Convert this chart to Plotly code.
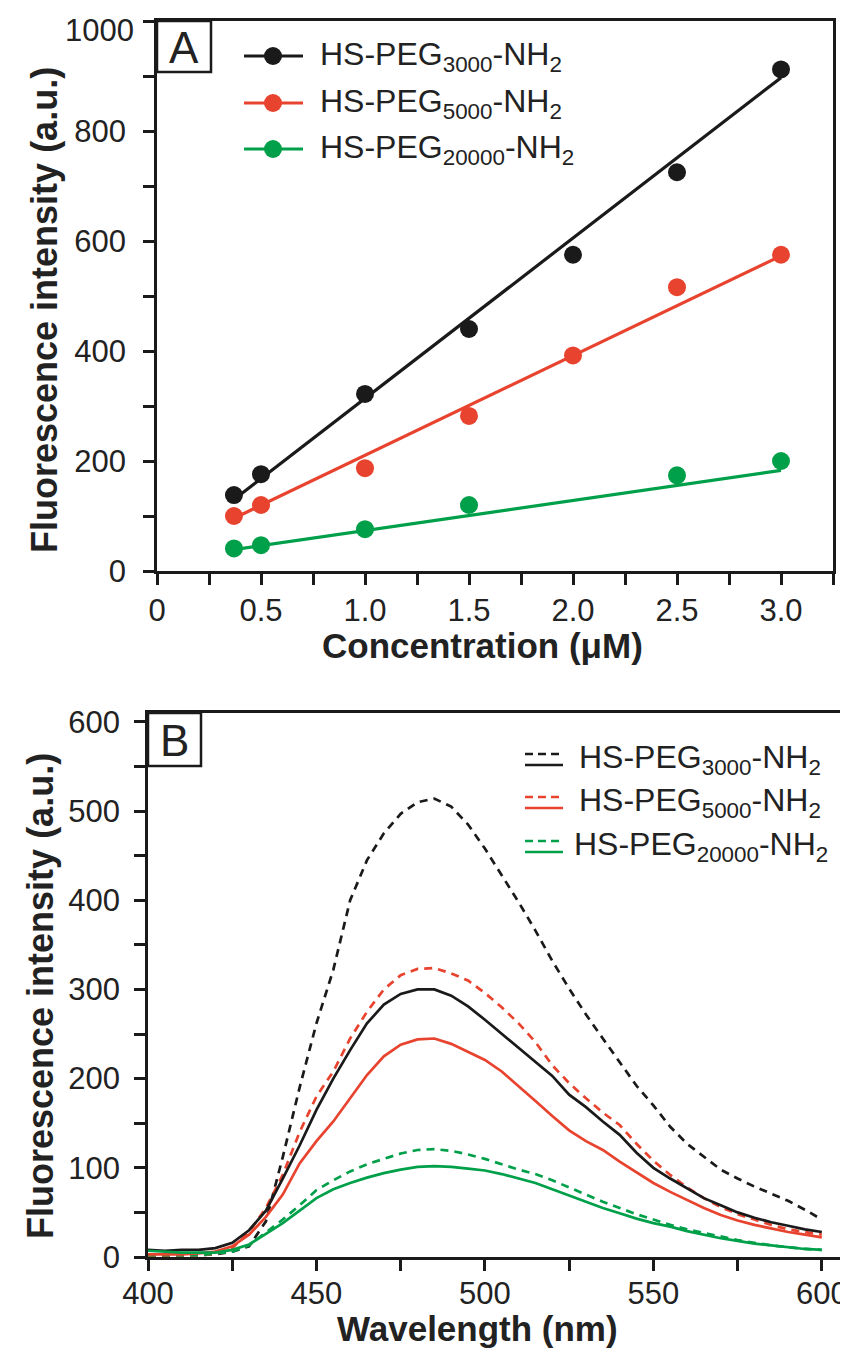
import plotly.graph_objects as go

# ---------------- Panel A data ----------------
conc_black = [0.37, 0.5, 1.0, 1.5, 2.0, 2.5, 3.0]
int_black = [138, 176, 322, 440, 575, 725, 912]
conc_red = [0.37, 0.5, 1.0, 1.5, 2.0, 2.5, 3.0]
int_red = [100, 120, 187, 282, 392, 516, 575]
conc_green = [0.37, 0.5, 1.0, 1.5, 2.5, 3.0]
int_green = [41, 47, 76, 120, 174, 200]

fit_x = [0.37, 3.0]
fit_black = [130, 897]
fit_red = [96, 573]
fit_green = [39, 183]

# ---------------- Panel B data ----------------
wavelength = [400, 405, 410, 415, 420, 425, 430, 435, 440, 445, 450, 455, 460, 465,
              470, 475, 480, 485, 490, 495, 500, 505, 510, 515, 520, 525, 530, 535,
              540, 545, 550, 555, 560, 565, 570, 575, 580, 585, 590, 595, 600]
peg3000_dash = [3, 2, 2, 2, 3, 6, 12, 40, 112, 190, 262, 322, 400, 445,
                475, 497, 510, 514, 505, 485, 458, 428, 398, 366, 332, 301, 272, 245,
                218, 192, 170, 146, 127, 112, 98, 88, 79, 71, 63, 53, 42]
peg3000_solid = [8, 7, 8, 8, 10, 16, 30, 52, 88, 125, 165, 200, 232, 262,
                 283, 295, 300, 300, 293, 281, 266, 250, 235, 219, 203, 182, 168, 152,
                 137, 117, 100, 88, 77, 66, 58, 50, 44, 39, 35, 31, 28]
peg5000_dash = [1, 1, 2, 2, 3, 10, 28, 55, 92, 140, 180, 208, 245, 275,
                300, 316, 323, 324, 318, 310, 296, 280, 262, 241, 215, 195, 178, 162,
                148, 127, 108, 92, 78, 66, 56, 48, 42, 36, 31, 28, 25]
peg5000_solid = [3, 3, 3, 4, 6, 12, 25, 45, 70, 105, 130, 152, 178, 204,
                 225, 238, 244, 245, 239, 230, 221, 208, 192, 175, 158, 142, 130, 120,
                 107, 95, 83, 73, 64, 55, 47, 41, 36, 32, 28, 25, 22]
peg20000_dash = [2, 2, 2, 2, 4, 6, 13, 27, 42, 58, 75, 86, 96, 104,
                 110, 116, 120, 121, 119, 115, 110, 104, 98, 93, 86, 78, 70, 62,
                 55, 48, 42, 36, 31, 27, 23, 19, 16, 13, 11, 9, 8]
peg20000_solid = [7, 6, 5, 5, 5, 8, 14, 26, 38, 52, 66, 76, 83, 89,
                  94, 98, 101, 102, 101, 99, 97, 93, 88, 83, 76, 69, 62, 55,
                  49, 43, 38, 34, 29, 25, 21, 18, 15, 13, 11, 9, 8]

# tick labels
xA_ticks = [0, 0.25, 0.5, 0.75, 1.0, 1.25, 1.5, 1.75, 2.0, 2.25, 2.5, 2.75, 3.0, 3.25]
xA_labels = ["0", "", "0.5", "", "1.0", "", "1.5", "", "2.0", "", "2.5", "", "3.0", ""]
yA_ticks = [0, 100, 200, 300, 400, 500, 600, 700, 800, 900, 1000]
yA_labels = ["0", "", "200", "", "400", "", "600", "", "800", "", ""]
yA_top_label = "1000"   # drawn just below its tick, as in the original
xB_ticks = [400, 425, 450, 475, 500, 525, 550, 575, 600]
xB_labels = ["400", "", "450", "", "500", "", "550", "", "600"]
yB_ticks = [0, 50, 100, 150, 200, 250, 300, 350, 400, 450, 500, 550, 600]
yB_labels = ["0", "", "100", "", "200", "", "300", "", "400", "", "500", "", "600"]

legend_labels = ["HS-PEG<sub>3000</sub>-NH<sub>2</sub>",
                 "HS-PEG<sub>5000</sub>-NH<sub>2</sub>",
                 "HS-PEG<sub>20000</sub>-NH<sub>2</sub>"]

BLACK = "#1a1a1a"
RED = "#e8432e"
GREEN = "#00a04a"
colors = [BLACK, RED, GREEN]

# the page body has an 8 px margin, so picture pixel = figure pixel + 8
OFF = 8
W, H = 848, 1351
def px(x):
    return min(1.0, max(0.0, (x - OFF) / W))
def py(y):
    return min(1.0, max(0.0, 1 - (y - OFF) / H))

FONT = "Liberation Sans, Arial, sans-serif"
TICKCOLOR = "#222222"

fig = go.Figure()

# Panel A: fit lines + points
for fx, fy, c in [(fit_x, fit_black, BLACK), (fit_x, fit_red, RED), (fit_x, fit_green, GREEN)]:
    fig.add_trace(go.Scatter(x=fx, y=fy, mode="lines", line=dict(color=c, width=3.2),
                             xaxis="x", yaxis="y", showlegend=False))
for cx, cy, c in [(conc_black, int_black, BLACK), (conc_red, int_red, RED), (conc_green, int_green, GREEN)]:
    fig.add_trace(go.Scatter(x=cx, y=cy, mode="markers", marker=dict(color=c, size=18),
                             xaxis="x", yaxis="y", showlegend=False))

# Panel B: spectra
dash_style = "8px,6px"
for yv, c, d in [(peg3000_dash, BLACK, dash_style), (peg5000_dash, RED, dash_style),
                 (peg20000_dash, GREEN, dash_style), (peg3000_solid, BLACK, "solid"),
                 (peg5000_solid, RED, "solid"), (peg20000_solid, GREEN, "solid")]:
    fig.add_trace(go.Scatter(x=wavelength, y=yv, mode="lines",
                             line=dict(color=c, width=2.7, dash=d),
                             xaxis="x2", yaxis="y2", showlegend=False))

axis_common = dict(showline=True, linecolor=BLACK, linewidth=2.5, mirror=True,
                   ticks="outside", ticklen=11, tickwidth=2.5, tickcolor=BLACK,
                   showgrid=False, zeroline=False, automargin=False,
                   ticklabeloverflow="allow",
                   tickfont=dict(family=FONT, size=31, color=TICKCOLOR))

fig.update_layout(
    width=W, height=H, autosize=False,
    margin=dict(l=0, r=0, t=0, b=0, autoexpand=False),
    paper_bgcolor="white", plot_bgcolor="white",
    showlegend=False,
    xaxis=dict(domain=[px(157), px(833)], range=[0, 3.25], anchor="y",
               tickmode="array", tickvals=xA_ticks, ticktext=xA_labels,
               ticklabelstandoff=-1, **axis_common),
    yaxis=dict(domain=[py(571), py(21)], range=[0, 1000], anchor="x",
               tickmode="array", tickvals=yA_ticks, ticktext=yA_labels,
               ticklabelstandoff=11, **axis_common),
    xaxis2=dict(domain=[px(148), px(840)], range=[400, 605.4], anchor="y2",
                tickmode="array", tickvals=xB_ticks, ticktext=xB_labels,
                ticklabelstandoff=-4, **axis_common),
    yaxis2=dict(domain=[py(1257), py(713)], range=[0, 610], anchor="x2",
                tickmode="array", tickvals=yB_ticks, ticktext=yB_labels,
                ticklabelstandoff=8, **axis_common),
)

shapes = []
annotations = []

# top y label of panel A (sits just under its tick in the original)
annotations.append(dict(x=px(136), y=py(31), xref="paper", yref="paper",
                        text=yA_top_label, showarrow=False,
                        font=dict(family=FONT, size=31, color=TICKCOLOR),
                        xanchor="right", yanchor="middle"))

# axis titles
title_font = dict(family=FONT, size=35, color="#222222")
ytitle_font = dict(family=FONT, size=36, color="#222222")
annotations.append(dict(x=px(482), y=py(645), xref="paper", yref="paper",
                        text="<b>Concentration (μM)</b>", showarrow=False,
                        font=title_font, xanchor="center", yanchor="middle"))
annotations.append(dict(x=px(44), y=py(310), xref="paper", yref="paper",
                        text="<b>Fluorescence intensity (a.u.)</b>", showarrow=False,
                        font=ytitle_font, textangle=-90, xanchor="center", yanchor="middle"))
annotations.append(dict(x=px(478), y=py(1328), xref="paper", yref="paper",
                        text="<b>Wavelength (nm)</b>", showarrow=False,
                        font=title_font, xanchor="center", yanchor="middle"))
annotations.append(dict(x=px(40), y=py(996), xref="paper", yref="paper",
                        text="<b>Fluorescence intensity (a.u.)</b>", showarrow=False,
                        font=ytitle_font, textangle=-90, xanchor="center", yanchor="middle"))

# panel letters
for (x0, y0, x1, y1, letter) in [(157, 21, 211, 72, "A"), (148, 713, 201, 766, "B")]:
    shapes.append(dict(type="rect", xref="paper", yref="paper",
                       x0=px(x0), x1=px(x1), y0=py(y1), y1=py(y0),
                       line=dict(color=BLACK, width=2.5), fillcolor="white"))
    annotations.append(dict(x=px((x0 + x1) / 2), y=py((y0 + y1) / 2 + 1), xref="paper", yref="paper",
                            text=letter, showarrow=False,
                            font=dict(family=FONT, size=44, color="#222222"),
                            xanchor="center", yanchor="middle"))

# legend A
legA_rows = [56, 103, 149]
for row, c, lab in zip(legA_rows, colors, legend_labels):
    shapes.append(dict(type="line", xref="paper", yref="paper",
                       x0=px(244), x1=px(303), y0=py(row), y1=py(row),
                       line=dict(color=c, width=3.2)))
    shapes.append(dict(type="circle", xref="paper", yref="paper",
                       x0=px(264), x1=px(282), y0=py(row + 9), y1=py(row - 9),
                       line=dict(color=c, width=0), fillcolor=c))
    annotations.append(dict(x=px(318), y=py(row), xref="paper", yref="paper",
                            text=lab, showarrow=False,
                            font=dict(family=FONT, size=32, color="#222222"),
                            xanchor="left", yanchor="middle"))

# legend B
legB_rows = [759, 802, 846]
legB_textx = [577, 577, 572]
for row, tx, c, lab in zip(legB_rows, legB_textx, colors, legend_labels):
    shapes.append(dict(type="line", xref="paper", yref="paper",
                       x0=px(525), x1=px(563), y0=py(row - 5), y1=py(row - 5),
                       line=dict(color=c, width=2.7, dash="8px,5px")))
    shapes.append(dict(type="line", xref="paper", yref="paper",
                       x0=px(525), x1=px(563), y0=py(row + 6), y1=py(row + 6),
                       line=dict(color=c, width=2.7)))
    annotations.append(dict(x=px(tx), y=py(row), xref="paper", yref="paper",
                            text=lab, showarrow=False,
                            font=dict(family=FONT, size=32, color="#222222"),
                            xanchor="left", yanchor="middle"))

fig.update_layout(shapes=shapes, annotations=annotations)
fig.write_html("out.html")
